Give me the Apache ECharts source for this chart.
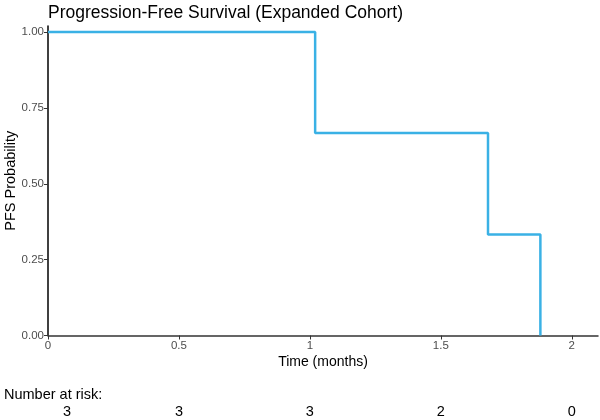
<!DOCTYPE html>
<html><head><meta charset="utf-8">
<script src="https://cdn.jsdelivr.net/npm/echarts@6/dist/echarts.min.js"></script>
<style>html,body{margin:0;padding:0;background:#fff}#c{width:600px;height:420px}</style>
</head><body><div id="c"></div>
<script>
const stepTimes = [0, 1.02, 1.68, 1.88];
const survival = [1.0, 0.667, 0.333, 0.0];
const xTicks = [0, 0.5, 1, 1.5, 2];
const yTicks = [0, 0.25, 0.5, 0.75, 1];
const riskTimes = [0, 0.5, 1, 1.5, 2];
const riskCounts = [3, 3, 3, 2, 0];

const FONT = '"Liberation Sans", Arial, sans-serif';
const chart = echarts.init(document.getElementById('c'), null, {renderer: 'canvas'});
const opt = {
  animation: false,
  textStyle: {fontFamily: FONT},
  title: {text: 'Progression-Free Survival (Expanded Cohort)', left: 43, top: -1,
    textStyle: {fontSize: 17.5, fontWeight: 'normal', color: '#000', fontFamily: FONT}},
  grid: {left: 48, right: 2, top: 26, bottom: 84.5, containLabel: false, outerBoundsMode: 'none'},
  xAxis: {type: 'value', min: 0, max: 2.1,
    name: 'Time (months)', nameLocation: 'middle', nameGap: 20, nameMoveOverlap: false,
    nameTextStyle: {fontSize: 14, color: '#000', fontFamily: FONT},
    axisLine: {show: true, lineStyle: {color: '#333', width: 1.5}},
    axisTick: {show: true, length: 4, customValues: xTicks, lineStyle: {color: '#333'}},
    axisLabel: {customValues: xTicks, color: '#4d4d4d', fontSize: 11.5, margin: 4, fontFamily: FONT},
    splitLine: {show: false}},
  yAxis: {type: 'value', min: 0, max: 1.02,
    name: 'PFS Probability', nameLocation: 'middle', nameGap: 30, nameMoveOverlap: false,
    nameTextStyle: {fontSize: 14.5, color: '#000', fontFamily: FONT},
    axisLine: {show: true, lineStyle: {color: '#000', width: 1.5}},
    axisTick: {show: true, length: 4, customValues: yTicks, lineStyle: {color: '#333'}},
    axisLabel: {customValues: yTicks, color: '#4d4d4d', fontSize: 11.5, margin: 4, fontFamily: FONT,
      formatter: v => v.toFixed(2)},
    splitLine: {show: false}},
  series: [{type: 'line', step: 'end', symbol: 'none',
    data: stepTimes.map((t, i) => [t, survival[i]]),
    lineStyle: {color: '#3AB1E5', width: 2.5}}]
};
chart.setOption(opt);
const g = [{type: 'text', x: 4, y: 395,
  style: {text: 'Number at risk:', font: '14.5px ' + FONT, fill: '#000', verticalAlign: 'middle'}}];
riskTimes.forEach((t, i) => {
  let px = chart.convertToPixel({gridIndex: 0}, [t, 0])[0];
  if (i === 0) px += 19;
  g.push({type: 'text', x: px, y: 412,
    style: {text: String(riskCounts[i]), font: '14.5px ' + FONT, fill: '#000', align: 'center', verticalAlign: 'middle'}});
});
chart.setOption({graphic: g});
</script></body></html>
